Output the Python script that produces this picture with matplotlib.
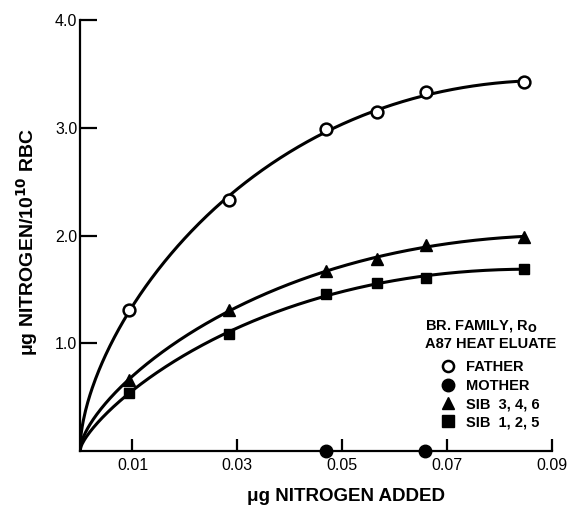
import numpy as np
import matplotlib
matplotlib.use("Agg")
import matplotlib.pyplot as plt
from matplotlib.lines import Line2D

# values
x_added = [0.0093, 0.0285, 0.047, 0.0567, 0.066, 0.0847]
father = [1.31, 2.33, 2.99, 3.15, 3.33, 3.42]
sib_346 = [0.66, 1.31, 1.67, 1.78, 1.91, 1.99]
sib_125 = [0.54, 1.09, 1.46, 1.56, 1.61, 1.69]
mother_x = [0.047, 0.0657]
mother = [0.0, 0.0]

x_ticks = [0.01, 0.03, 0.05, 0.07, 0.09]
y_ticks = [1.0, 2.0, 3.0, 4.0]


def smooth_curve(xk, yk, xs):
    """Least-squares smooth curve through the origin, in powers of sqrt(x),
    standing in for the hand-drawn line through the points."""
    s = np.sqrt(np.asarray(xk, float))
    A = np.column_stack([s, s**2, s**3])
    coef, *_ = np.linalg.lstsq(A, np.asarray(yk, float), rcond=None)
    ss = np.sqrt(xs)
    return coef[0] * ss + coef[1] * ss**2 + coef[2] * ss**3


plt.rcParams['font.family'] = ['Liberation Sans', 'DejaVu Sans']

fig = plt.figure(figsize=(5.71, 5.09), dpi=100)
ax = fig.add_axes([80 / 571, 58 / 509, 472 / 571, 431 / 509])

lw = 2.2
xs = np.linspace(0, x_added[-1], 400)
for ys in (father, sib_346, sib_125):
    ax.plot(xs, smooth_curve(x_added, ys, xs), color='black', lw=lw,
            solid_capstyle='round', zorder=2)

ax.plot(x_added, father, 'o', ms=8.5, mfc='white', mec='black', mew=1.8,
        zorder=3, clip_on=False)
ax.plot(x_added, sib_346, '^', ms=9, color='black', zorder=3, clip_on=False)
ax.plot(x_added, sib_125, 's', ms=7.5, color='black', zorder=3,
        clip_on=False)
ax.plot(mother_x, mother, 'o', ms=9, color='black', zorder=3, clip_on=False)

ax.set_xlim(0, 0.09)
ax.set_ylim(0, 4.0)
ax.set_xticks(x_ticks)
ax.set_xticklabels([f'{v:.2f}' for v in x_ticks])
ax.set_yticks(y_ticks)
ax.set_yticklabels([f'{v:.1f}' for v in y_ticks])
for side in ('top', 'right'):
    ax.spines[side].set_visible(False)
for side in ('left', 'bottom'):
    ax.spines[side].set_linewidth(1.6)
ax.tick_params(axis='x', direction='in', length=9, width=1.6, pad=5,
               labelsize=11.5)
ax.tick_params(axis='y', direction='in', length=12, width=1.6, pad=2,
               labelsize=11.5)

# the axis titles sit a little off-centre in the original
ax.set_xlabel('μg NITROGEN ADDED', fontsize=13.5, fontweight='bold',
              labelpad=11, x=0.564)
ax.set_ylabel('μg NITROGEN/10$^{\\mathbf{10}}$ RBC', fontsize=14,
              fontweight='bold', labelpad=11, y=0.485)

handles = [
    Line2D([], [], ls='none', marker='o', ms=8, mfc='white', mec='black',
           mew=1.8),
    Line2D([], [], ls='none', marker='o', ms=9, color='black'),
    Line2D([], [], ls='none', marker='^', ms=9, color='black'),
    Line2D([], [], ls='none', marker='s', ms=8, color='black'),
]
labels = ['FATHER', 'MOTHER', 'SIB  3, 4, 6', 'SIB  1, 2, 5']
leg = ax.legend(handles, labels, loc='lower right',
                bbox_to_anchor=(1.03, 0.026), frameon=False,
                title='BR. FAMILY, R$_{\\mathbf{O}}$\nA87 HEAT ELUATE',
                prop={'weight': 'bold', 'size': 10.5},
                title_fontproperties={'weight': 'bold', 'size': 10.5},
                handlelength=1.0, handletextpad=0.7, labelspacing=0.3,
                borderpad=0.2)
# a bit more room between the legend title and its entries
leg._legend_box.sep = 7

fig.savefig('out.png', dpi=100)
